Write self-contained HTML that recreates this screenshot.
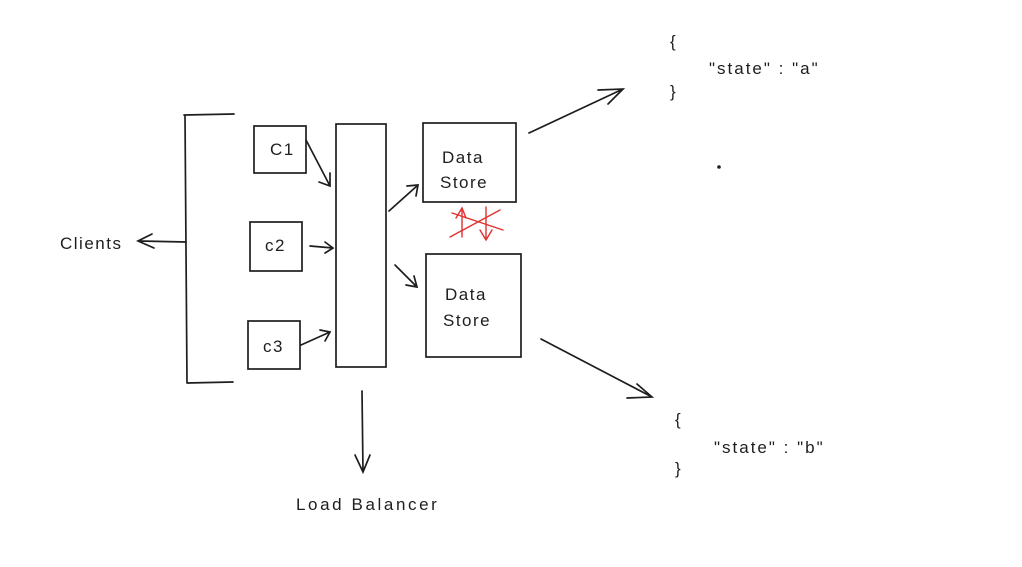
<!DOCTYPE html>
<html><head><meta charset="utf-8"><style>
html,body{margin:0;padding:0;background:#fff;}
svg{display:block;}
text{font-family:"Liberation Sans",sans-serif;fill:#1e1e1e;}
</style></head><body>
<svg width="1022" height="567" viewBox="0 0 1022 567" xmlns="http://www.w3.org/2000/svg">
<g fill="none" stroke="#1e1e1e" stroke-width="1.7" stroke-linecap="round">
<path d="M184 115 L234 114 M185 115 L187 383 M187 383 L233 382"/>
<path d="M186 242 L139 241 M152 234 L138 241 L154 248"/>
<rect x="254" y="126" width="52" height="47"/>
<rect x="250" y="222" width="52" height="49"/>
<rect x="248" y="321" width="52" height="48"/>
<rect x="336" y="124" width="50" height="243"/>
<path d="M306 140 L330 186 M319 182 L330 186 L330 173"/>
<path d="M310 246 L333 248 M325 242 L333 248 L325 253"/>
<path d="M301 345 L330 332 M320 330 L330 332 L325 341"/>
<path d="M389 211 L418 185 M407 186 L418 185 L416 196"/>
<path d="M395 265 L417 287 M414 276 L417 287 L406 285"/>
<path d="M362 391 L363 472 M355 455 L363 472 L370 455"/>
<rect x="423" y="123" width="93" height="79"/>
<rect x="426" y="254" width="95" height="103"/>
<path d="M529 133 L623 89 M598 90 L623 89 L608 104"/>
<path d="M541 339 L652 397 M627 398 L652 397 L637 384"/>
</g>
<g fill="none" stroke="#e03131" stroke-width="1.4" stroke-linecap="round">
<path d="M462 237 L462 208 M456 218 L462 208 L466 218"/>
<path d="M486 207 L486 240 M480 230 L486 240 L492 230"/>
<path d="M450 237 L500 210 M452 213 L503 230"/>
</g>
<circle cx="719" cy="167" r="1.8" fill="#1e1e1e"/>
<g font-size="17" letter-spacing="1.5">
<text x="60" y="249">Clients</text>
<text x="270" y="155">C1</text>
<text x="265" y="251">c2</text>
<text x="263" y="352">c3</text>
<text x="442" y="163">Data</text>
<text x="440" y="188">Store</text>
<text x="445" y="300">Data</text>
<text x="443" y="326">Store</text>
<text x="296" y="510" letter-spacing="2.6">Load Balancer</text>
<text x="670" y="47">{</text>
<text x="709" y="74" letter-spacing="2">"state" : "a"</text>
<text x="670" y="97">}</text>
<text x="675" y="425">{</text>
<text x="714" y="453" letter-spacing="2">"state" : "b"</text>
<text x="675" y="474">}</text>
</g>
</svg>
</body></html>
